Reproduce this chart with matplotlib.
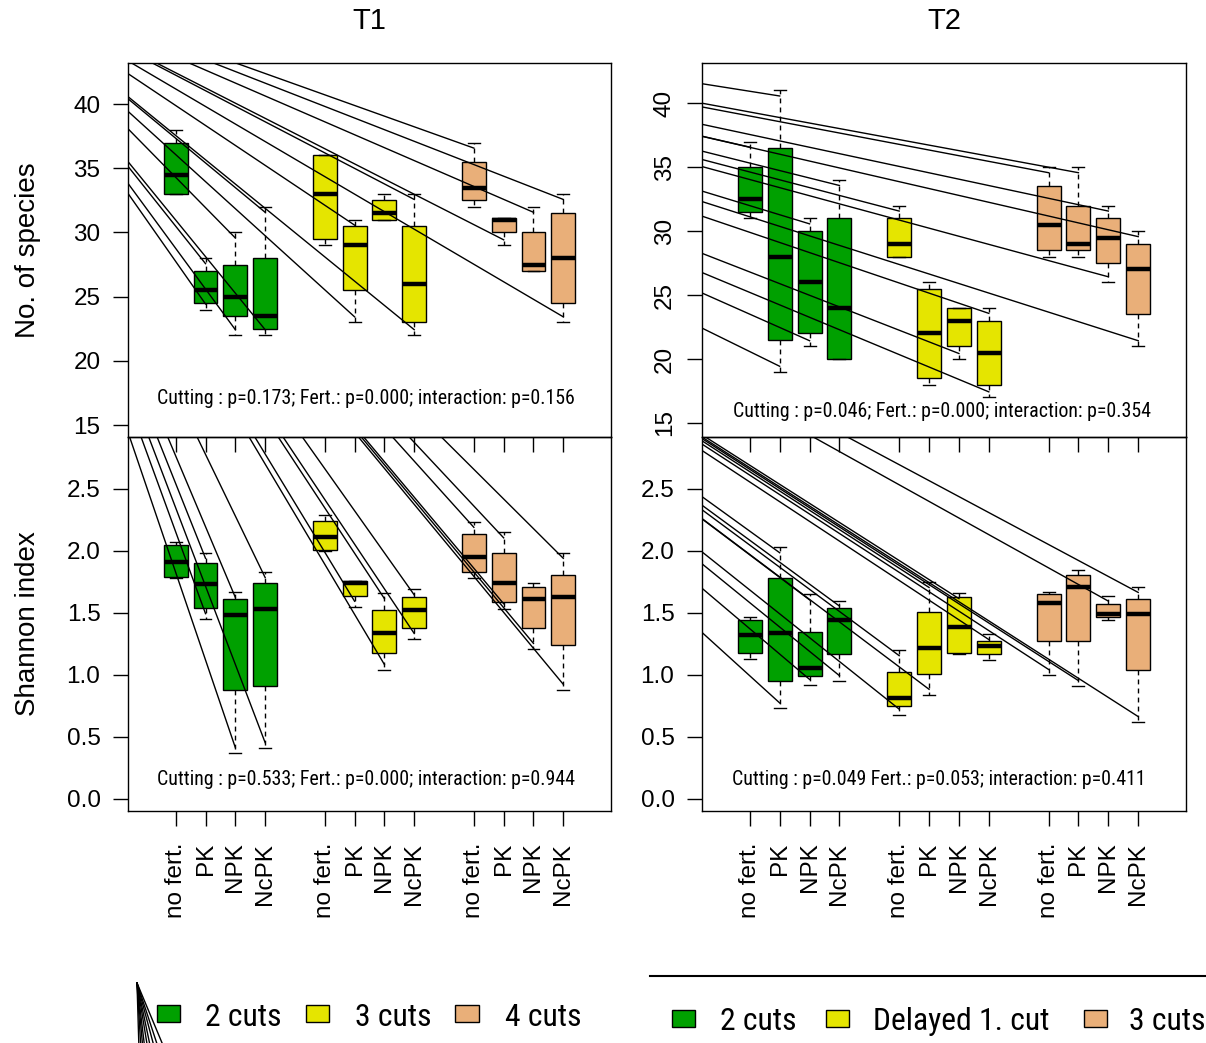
import matplotlib
matplotlib.use('Agg')
import matplotlib.pyplot as plt
from matplotlib import font_manager
from matplotlib.patches import Rectangle
from matplotlib.lines import Line2D

# ---------------- data ----------------
fert_labels = ['no fert.', 'PK', 'NPK', 'NcPK']
positions = [1, 2, 3, 4, 6, 7, 8, 9, 11, 12, 13, 14]
tick_labels = fert_labels * 3
group_colors = ['#00A000', '#E5E500', '#E9AF79']
box_colors = [c for c in group_colors for _ in range(4)]
t1_legend = ['2 cuts', '3 cuts', '4 cuts']
t2_legend = ['2 cuts', 'Delayed 1. cut', '3 cuts']
titles = ['T1', 'T2']
ylabels = ['No. of species', 'Shannon index']

# T1 - number of species
t1_sp_lo  = [33, 24, 22, 22, 29, 23, 31, 22, 32, 29, 27, 23]
t1_sp_q1  = [33, 24.5, 23.5, 22.5, 29.5, 25.5, 31, 23, 32.5, 30, 27, 24.5]
t1_sp_med = [34.5, 25.5, 25, 23.5, 33, 29, 31.5, 26, 33.5, 31, 27.5, 28]
t1_sp_q3  = [37, 27, 27.5, 28, 36, 30.5, 32.5, 30.5, 35.5, 31.1, 30, 31.5]
t1_sp_hi  = [38, 28, 30, 32, 36, 31, 33, 33, 37, 31.1, 32, 33]

# T2 - number of species
t2_sp_lo  = [31, 19, 21, 20, 28, 18, 20, 17, 28, 28, 26, 21]
t2_sp_q1  = [31.5, 21.5, 22, 20, 28, 18.5, 21, 18, 28.5, 28.5, 27.5, 23.5]
t2_sp_med = [32.5, 28, 26, 24, 29, 22, 23, 20.5, 30.5, 29, 29.5, 27]
t2_sp_q3  = [35, 36.5, 30, 31, 31, 25.5, 24, 23, 33.5, 32, 31, 29]
t2_sp_hi  = [37, 41, 31, 34, 32, 26, 24, 24, 35, 35, 32, 30]

# T1 - Shannon index
t1_sh_lo  = [1.78, 1.45, 0.37, 0.41, 2.00, 1.55, 1.04, 1.29, 1.78, 1.53, 1.21, 0.88]
t1_sh_q1  = [1.79, 1.54, 0.875, 0.91, 2.01, 1.64, 1.18, 1.38, 1.83, 1.59, 1.38, 1.24]
t1_sh_med = [1.91, 1.73, 1.48, 1.53, 2.11, 1.74, 1.34, 1.52, 1.95, 1.74, 1.61, 1.63]
t1_sh_q3  = [2.045, 1.90, 1.61, 1.74, 2.245, 1.755, 1.52, 1.625, 2.14, 1.985, 1.71, 1.81]
t1_sh_hi  = [2.07, 1.985, 1.67, 1.83, 2.29, 1.755, 1.66, 1.69, 2.235, 2.15, 1.74, 1.985]

# T2 - Shannon index
t2_sh_lo  = [1.13, 0.73, 0.92, 0.95, 0.68, 0.84, 1.17, 1.12, 1.00, 0.91, 1.44, 0.62]
t2_sh_q1  = [1.18, 0.95, 0.99, 1.17, 0.75, 1.005, 1.18, 1.17, 1.27, 1.27, 1.47, 1.04]
t2_sh_med = [1.32, 1.34, 1.06, 1.44, 0.815, 1.215, 1.39, 1.23, 1.58, 1.71, 1.495, 1.49]
t2_sh_q3  = [1.44, 1.78, 1.35, 1.54, 1.02, 1.51, 1.625, 1.27, 1.65, 1.81, 1.57, 1.61]
t2_sh_hi  = [1.47, 2.03, 1.65, 1.60, 1.20, 1.75, 1.66, 1.33, 1.67, 1.845, 1.64, 1.71]

# leader lines: (box number, whisker end)
t1_sp_leaders = [(2, 'hi'), (2, 'lo'), (3, 'hi'), (3, 'lo'), (4, 'hi'), (4, 'lo'), (6, 'hi'), (6, 'lo'),
                 (8, 'hi'), (8, 'lo'), (9, 'hi'), (10, 'lo'), (11, 'hi'), (12, 'hi'), (12, 'lo')]
t2_sp_leaders = [(1, 'hi'), (2, 'hi'), (2, 'lo'), (3, 'hi'), (3, 'lo'), (4, 'hi'), (5, 'hi'), (7, 'lo'),
                 (8, 'hi'), (8, 'lo'), (9, 'hi'), (10, 'hi'), (11, 'hi'), (11, 'lo'), (12, 'hi'), (12, 'lo')]
t1_sh_leaders = [(2, 'hi'), (2, 'lo'), (3, 'hi'), (3, 'lo'), (4, 'hi'), (4, 'lo'), (6, 'lo'), (7, 'hi'),
                 (7, 'lo'), (8, 'hi'), (8, 'lo'), (9, 'hi'), (10, 'hi'), (10, 'lo'), (11, 'lo'), (12, 'hi'), (12, 'lo')]
t2_sh_leaders = [(2, 'hi'), (2, 'lo'), (3, 'hi'), (3, 'lo'), (4, 'hi'), (4, 'lo'), (5, 'hi'), (5, 'lo'),
                 (6, 'hi'), (6, 'lo'), (7, 'hi'), (8, 'hi'), (9, 'lo'), (10, 'lo'), (11, 'hi'), (12, 'hi'), (12, 'lo')]

ptexts = ['Cutting : p=0.173; Fert.: p=0.000; interaction: p=0.156',
          'Cutting : p=0.046; Fert.: p=0.000; interaction: p=0.354',
          'Cutting : p=0.533; Fert.: p=0.000; interaction: p=0.944',
          'Cutting : p=0.049 Fert.: p=0.053; interaction: p=0.411']

sp_ticks = [15, 20, 25, 30, 35, 40]
sh_ticks = [0.0, 0.5, 1.0, 1.5, 2.0, 2.5]

# ---------------- style / layout ----------------
W, H, DPI = 1206, 1043, 100
installed = {f.name for f in font_manager.fontManager.ttflist}
plt.rcParams['font.family'] = ['Liberation Sans', 'DejaVu Sans']
NARROW = None
for cand in ['Liberation Sans Narrow', 'Arial Narrow', 'Roboto Condensed', 'Open Sans Condensed']:
    if cand in installed:
        NARROW = cand
        break
if NARROW is None:
    NARROW_KW = dict(family=['Liberation Sans', 'DejaVu Sans'])
    P_SIZE, LEG_SIZE = 12.6, 20.2
else:
    NARROW_KW = dict(family=[NARROW, 'DejaVu Sans'])
    P_SIZE, LEG_SIZE = 14.3, 22.8

fig = plt.figure(figsize=(W / DPI, H / DPI), dpi=DPI)
ORIGIN = (-30, -32)   # common start of leader lines, image pixels


def px_axes(x0, y0, x1, y1):
    return fig.add_axes([x0 / W, 1 - y1 / H, (x1 - x0) / W, (y1 - y0) / H])


def panel(ax, lo, q1, med, q3, hi, ylim, leaders, ptext, pxy):
    stats = [dict(whislo=a, q1=b, med=c, q3=d, whishi=e, fliers=[])
             for a, b, c, d, e in zip(lo, q1, med, q3, hi)]
    bp = ax.bxp(stats, positions=positions, widths=0.8, capwidths=0.4,
                patch_artist=True, showfliers=False, manage_ticks=False,
                boxprops=dict(edgecolor='black', linewidth=1.0),
                medianprops=dict(color='black', linewidth=3.2, solid_capstyle='butt'),
                whiskerprops=dict(color='black', linewidth=1.0, linestyle=(0, (3.5, 3))),
                capprops=dict(color='black', linewidth=1.0))
    for patch, c in zip(bp['boxes'], box_colors):
        patch.set_facecolor(c)
    ax.set_xlim(-0.6, 15.6)
    ax.set_ylim(*ylim)
    for s in ax.spines.values():
        s.set_linewidth(1.0)
    inv = fig.transFigure.inverted()
    o = (ORIGIN[0] / W, 1 - ORIGIN[1] / H)
    for num, end in leaders:
        i = num - 1
        val = hi[i] if end == 'hi' else lo[i]
        dx, dy = ax.transData.transform((positions[i], val))
        dy += -5.5 if end == 'hi' else 5.5
        fx, fy = inv.transform((dx, dy))
        ax.add_line(Line2D([o[0], fx], [o[1], fy], transform=fig.transFigure,
                           color='black', lw=1.0, zorder=5))
    ax.text(pxy[0], pxy[1], ptext, transform=ax.transAxes, ha='center', va='center',
            fontsize=P_SIZE, **NARROW_KW)
    ax.tick_params(axis='both', direction='out', length=10.8, width=1.0, labelsize=17.5)


ax1 = px_axes(128, 63, 611, 437)
ax2 = px_axes(702, 63, 1186, 437)
ax3 = px_axes(128, 437, 611, 811)
ax4 = px_axes(702, 437, 1186, 811)
for a in (ax3, ax4):
    a.set_facecolor('none')

panel(ax1, t1_sp_lo, t1_sp_q1, t1_sp_med, t1_sp_q3, t1_sp_hi, (14.07, 43.2),
      t1_sp_leaders, ptexts[0], (0.493, 0.102))
panel(ax2, t2_sp_lo, t2_sp_q1, t2_sp_med, t2_sp_q3, t2_sp_hi, (13.9, 43.15),
      t2_sp_leaders, ptexts[1], (0.496, 0.067))
panel(ax3, t1_sh_lo, t1_sh_q1, t1_sh_med, t1_sh_q3, t1_sh_hi, (-0.097, 2.919),
      t1_sh_leaders, ptexts[2], (0.493, 0.083))
panel(ax4, t2_sh_lo, t2_sh_q1, t2_sh_med, t2_sh_q3, t2_sh_hi, (-0.097, 2.919),
      t2_sh_leaders, ptexts[3], (0.49, 0.083))

for a in (ax1, ax2):
    a.set_xticks(positions)
    a.tick_params(axis='x', labelbottom=False)
for a in (ax3, ax4):
    a.set_xticks(positions, tick_labels, rotation=90, va='top', ha='center')
    a.tick_params(axis='x', pad=12)

ax1.set_yticks(sp_ticks, [str(t) for t in sp_ticks])
ax1.tick_params(axis='y', pad=9)
ax2.set_yticks(sp_ticks, [str(t) for t in sp_ticks], rotation=90, va='center')
ax2.tick_params(axis='y', pad=8)
for a in (ax3, ax4):
    a.set_yticks(sh_ticks, ['%.1f' % t for t in sh_ticks])
    a.tick_params(axis='y', pad=9)

# titles and axis labels
fig.text(369.5 / W, 1 - 21 / H, titles[0], ha='center', va='center', fontsize=21)
fig.text(944 / W, 1 - 21 / H, titles[1], ha='center', va='center', fontsize=21)
fig.text(28 / W, 1 - 250 / H, ylabels[0], rotation=90, ha='center', va='center', fontsize=20)
fig.text(28 / W, 1 - 624 / H, ylabels[1], rotation=90, ha='center', va='center', fontsize=20)


# legends
def legend_row(labels, xs, txs, yc):
    for lab, x, tx, c in zip(labels, xs, txs, group_colors):
        fig.add_artist(Rectangle(((x - 11.5) / W, 1 - (yc + 8.5) / H), 23 / W, 17 / H,
                                 transform=fig.transFigure, facecolor=c, edgecolor='black', lw=1.0))
        fig.text(tx / W, 1 - (yc + 4) / H, lab, ha='left', va='center', fontsize=LEG_SIZE, **NARROW_KW)


legend_row(t1_legend, [168, 317, 467], [205, 355, 505], 1013)
legend_row(t2_legend, [683, 837, 1095], [720, 873, 1129], 1018)

# rule above the T2 legend
fig.add_artist(Line2D([650 / W, 1.0], [1 - 976 / H] * 2, transform=fig.transFigure, color='black', lw=1.5))
# fan of stray lines next to the T1 legend
for ex in [139, 141, 143, 145, 148, 151, 155, 159, 165]:
    fig.add_artist(Line2D([137 / W, ex / W], [1 - 983 / H, 1 - 1050 / H],
                          transform=fig.transFigure, color='black', lw=1.0))

fig.savefig('out.png', dpi=DPI)
